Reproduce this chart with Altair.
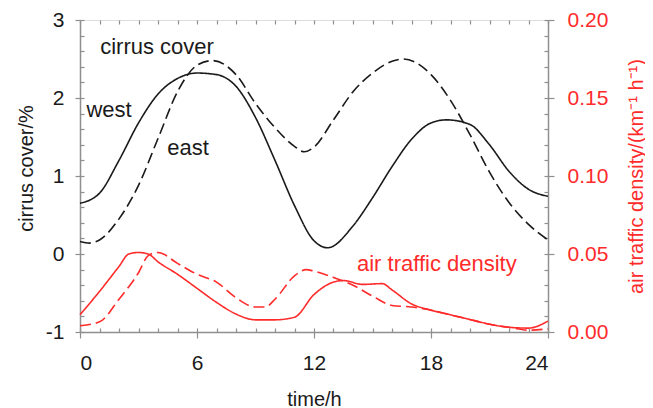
import altair as alt
import pandas as pd

# ---- cirrus cover (%) ----
west_t = [0, 1, 2, 3, 4, 5, 6, 7, 8, 9, 10, 11, 12, 12.7, 14, 15, 16, 17, 18, 18.8, 20, 21, 22, 23, 24]
west_v = [0.65, 0.78, 1.2, 1.68, 2.05, 2.25, 2.32, 2.3, 2.15, 1.75, 1.2, 0.62, 0.17, 0.08, 0.36, 0.72, 1.12, 1.47, 1.68, 1.72, 1.66, 1.4, 1.06, 0.83, 0.74]

east_t = [0, 0.5, 1, 2, 3, 4, 5, 6, 6.8, 8, 9, 10, 11, 11.5, 12, 13, 14, 15, 16, 16.6, 18, 19, 20, 21, 22, 23, 24]
east_v = [0.16, 0.14, 0.18, 0.45, 0.88, 1.48, 2.08, 2.42, 2.48, 2.3, 1.93, 1.62, 1.38, 1.31, 1.37, 1.72, 2.08, 2.32, 2.47, 2.5, 2.3, 1.97, 1.53, 1.05, 0.66, 0.38, 0.18]

# ---- air traffic density (km^-1 h^-1) ----
tw_t = [0, 1, 2, 2.5, 3, 3.5, 4, 5, 6, 7, 8, 9, 10, 11, 12, 13, 13.5, 14.5, 15.5, 16, 17, 18, 19, 20, 21, 22, 23, 24]
tw_v = [0.011, 0.026, 0.042, 0.050, 0.051, 0.050, 0.045, 0.037, 0.028, 0.019, 0.0115, 0.0078, 0.0078, 0.0095, 0.024, 0.032, 0.033, 0.0305, 0.031, 0.027, 0.018, 0.014, 0.011, 0.008, 0.005, 0.003, 0.0025, 0.007]

te_t = [0, 1, 2, 3, 3.5, 4, 5, 6, 7, 8, 9, 9.5, 10, 11, 11.6, 12, 13, 14, 15, 16, 17, 18, 19, 20, 21, 22, 23, 24]
te_v = [0.004, 0.0065, 0.021, 0.038, 0.049, 0.051, 0.044, 0.037, 0.032, 0.022, 0.016, 0.016, 0.021, 0.036, 0.040, 0.039, 0.035, 0.030, 0.023, 0.017, 0.016, 0.014, 0.011, 0.008, 0.005, 0.003, 0.0012, 0.002]

# ---- annotations ----
black_labels = ["cirrus cover", "west", "east"]
black_lab_t = [3.95, 1.49, 5.54]
black_lab_v = [2.65, 1.85, 1.36]
red_labels = ["air traffic density"]
red_lab_t = [18.3]
red_lab_v = [0.0436]

x_major = [0, 6, 12, 18, 24]
x_minor = list(range(25))
yl_major = [-1, 0, 1, 2, 3]
yl_minor = [round(-1 + 0.2 * i, 2) for i in range(21)]
yr_major = [0, 0.05, 0.10, 0.15, 0.20]
yr_minor = [round(0.01 * i, 2) for i in range(21)]

cirrus = pd.DataFrame({
    "time": west_t + east_t,
    "cover": west_v + east_v,
    "series": ["west"] * len(west_t) + ["east"] * len(east_t),
})
traffic = pd.DataFrame({
    "time": tw_t + te_t,
    "density": tw_v + te_v,
    "series": ["west"] * len(tw_t) + ["east"] * len(te_t),
})
blab = pd.DataFrame({"time": black_lab_t, "cover": black_lab_v, "label": black_labels})
rlab = pd.DataFrame({"time": red_lab_t, "density": red_lab_v, "label": red_labels})

FONT = "Liberation Sans"
GREY = "#8f8f8f"
RED = "#ff2b2b"
INK = "#1a1a1a"

XS = alt.Scale(domain=[0, 24], nice=False, zero=False)
YL = alt.Scale(domain=[-1, 3], nice=False, zero=False)
YR = alt.Scale(domain=[0, 0.2], nice=False, zero=False)

common = dict(grid=False, domainColor=GREY, tickColor=GREY, domainWidth=1.5, tickWidth=1.2,
              labelFont=FONT, titleFont=FONT, titleFontWeight="normal")

dash_scale = alt.Scale(domain=["west", "east"], range=[[1, 0], [11, 5]])

black = alt.Chart(cirrus).mark_line(color=INK, strokeWidth=1.6, interpolate="monotone").encode(
    x=alt.X("time:Q", scale=XS, axis=alt.Axis(orient="bottom", values=x_major, title="time/h",
            tickSize=6, labelPadding=14, labelFontSize=21, labelColor=INK, titleFontSize=20,
            titleColor=INK, titleX=234, titleY=57, titleBaseline="top", **common)),
    y=alt.Y("cover:Q", scale=YL, axis=alt.Axis(orient="left", values=yl_major, title="cirrus cover/%",
            labelExpr="replace(datum.label, '\u2212', '-')",
            tickSize=5, labelPadding=11, labelFontSize=21, labelColor=INK, titleFontSize=20,
            titleColor=INK, titleX=-54, titleY=148, titleAngle=270, titleBaseline="middle", **common)),
    strokeDash=alt.StrokeDash("series:N", scale=dash_scale, legend=None),
)

red = alt.Chart(traffic).mark_line(color=RED, strokeWidth=1.6, interpolate="monotone").encode(
    x=alt.X("time:Q", scale=XS, axis=None),
    y=alt.Y("density:Q", scale=YR, axis=alt.Axis(orient="right", values=yr_major, format=".2f",
            title="air traffic density/(km⁻¹ h⁻¹)", tickSize=6, labelPadding=13, labelFontSize=21,
            labelColor=RED, titleFontSize=20, titleColor=RED, titleAngle=270, titleX=88, titleY=156,
            titleBaseline="middle", **common)),
    strokeDash=alt.StrokeDash("series:N", scale=dash_scale, legend=None),
)

minor_common = dict(grid=False, labels=False, domain=False, title=None, tickColor=GREY,
                    tickSize=4, tickWidth=1.2, offset=-4)

minor_a = alt.Chart(cirrus).mark_point(opacity=0).encode(
    x=alt.X("time:Q", scale=XS, axis=alt.Axis(orient="bottom", values=x_minor, **minor_common)),
    y=alt.Y("cover:Q", scale=YL, axis=alt.Axis(orient="left", values=yl_minor, **minor_common)),
)
minor_b = alt.Chart(traffic).mark_point(opacity=0).encode(
    x=alt.X("time:Q", scale=XS, axis=alt.Axis(orient="top", values=x_minor, **minor_common)),
    y=alt.Y("density:Q", scale=YR, axis=alt.Axis(orient="right", values=yr_minor, **minor_common)),
)

btext = alt.Chart(blab).mark_text(font=FONT, fontSize=22, color=INK).encode(
    x=alt.X("time:Q", scale=XS, axis=None),
    y=alt.Y("cover:Q", scale=YL, axis=None),
    text="label:N",
)
rtext = alt.Chart(rlab).mark_text(font=FONT, fontSize=22, color=RED).encode(
    x=alt.X("time:Q", scale=XS, axis=None),
    y=alt.Y("density:Q", scale=YR, axis=None),
    text="label:N",
)

chart = alt.layer(black, red, minor_a, minor_b, btext, rtext).resolve_scale(
    y="independent"
).resolve_axis(
    x="independent", y="independent"
).properties(
    width=468, height=312,
    autosize=alt.AutoSizeParams(type="none"),
    padding={"left": 72, "top": 12, "right": 97, "bottom": 76},
).configure_view(stroke=GREY, strokeWidth=1.5).configure(background="white")

chart.save("out.html", embed_options={"renderer": "svg", "actions": False})
